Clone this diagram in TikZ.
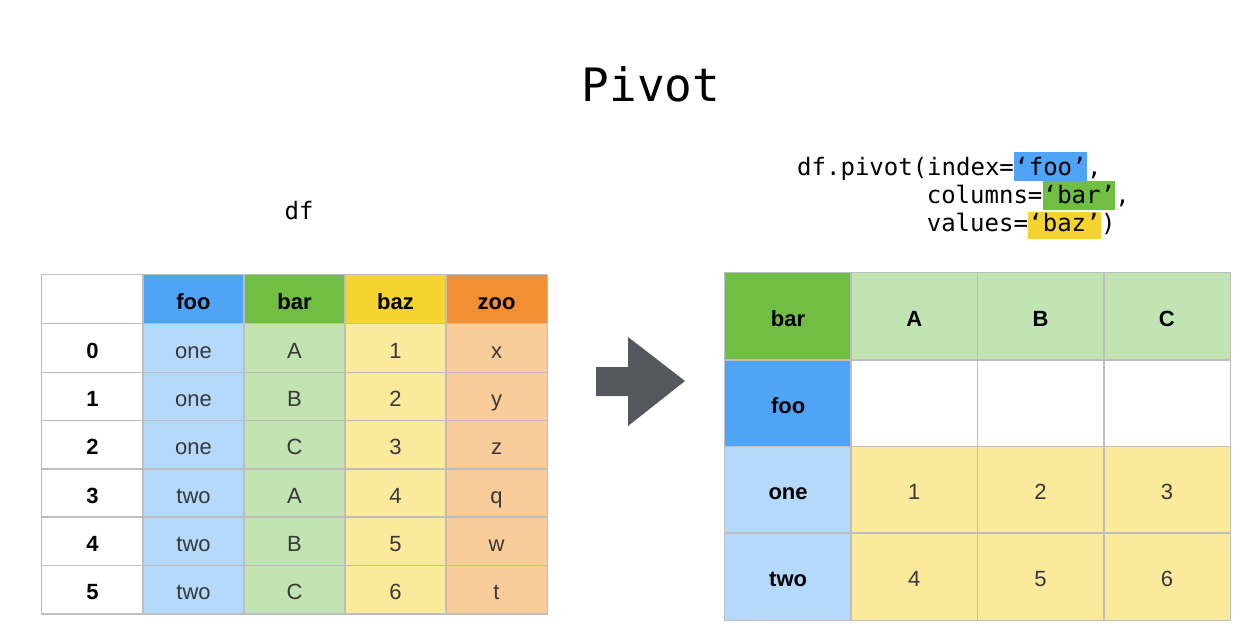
\documentclass[tikz,border=0pt]{standalone}
\usepackage{fontspec}
\setmainfont{Liberation Sans}
\newfontfamily\codefont{DejaVu Sans Mono}
\usetikzlibrary{positioning}
\definecolor{hblue}{HTML}{4FA4F8}
\definecolor{hgreen}{HTML}{70BE43}
\definecolor{hyellow}{HTML}{F5D431}
\definecolor{horange}{HTML}{F28F33}
\definecolor{lblue}{HTML}{B5D9FB}
\definecolor{lgreen}{HTML}{C2E3B2}
\definecolor{lyellow}{HTML}{FCEA9C}
\definecolor{lorange}{HTML}{F9CD9A}
\definecolor{gridgray}{HTML}{BEBEBE}
\definecolor{txtgray}{HTML}{383838}
\definecolor{arrowgray}{HTML}{54575E}
\tikzset{
  cell/.style={inner sep=0pt, text height=20pt, text depth=0pt, text=txtgray, font=\fontsize{22}{26}\selectfont},
  lcell/.style={cell, minimum width=101pt, minimum height=48.3pt},
  rcell/.style={cell, minimum width=126.25pt, minimum height=86.75pt},
  hdr/.style={text=black, font=\fontsize{22}{26}\selectfont\bfseries},
  gridline/.style={draw=gridgray, line width=1.2pt},
  code/.style={inner sep=0pt, text height=18pt, text depth=5pt, font=\codefont\fontsize{24}{28}\selectfont}
}
\begin{document}
\begin{tikzpicture}[x=1pt,y=-1pt, line join=round, line cap=round]
\useasboundingbox (0,0) rectangle (1257,644);
\node[font=\codefont\fontsize{46}{50}\selectfont] (title) at (651,84) {Pivot};
\node[code] (dfname) at (299,213) {df};
% call
\node[code, anchor=base west] (l1) at (797,176) {df.pivot(index=};
\node[code, anchor=base west, fill=hblue, text height=24pt] (kfoo) at (l1.base east) {‘foo’};
\node[code, anchor=base west] (c1) at (kfoo.base east) {,};
\node[code, anchor=base west] (l2) at (926.6,204) {columns=};
\node[code, anchor=base west, fill=hgreen, text height=23pt, text depth=6pt] (kbar) at (l2.base east) {‘bar’};
\node[code, anchor=base west] (c2) at (kbar.base east) {,};
\node[code, anchor=base west] (l3) at (926.6,232) {values=};
\node[code, anchor=base west, fill=hyellow, text height=20pt, text depth=7pt] (kbaz) at (l3.base east) {‘baz’};
\node[code, anchor=base west] (c3) at (kbaz.base east) {)};
% left table
\node[lcell, fill=white] (L-h-0) at (92.5,299.15) {};
\foreach \c/\h/\hc in {1/foo/hblue,2/bar/hgreen,3/baz/hyellow,4/zoo/horange}
  \node[lcell, hdr, fill=\hc] (L-h-\c) at ({92.5+101*\c},299.15) {\h};
\foreach \r/\a/\b/\v/\z in {0/one/A/1/x,1/one/B/2/y,2/one/C/3/z,3/two/A/4/q,4/two/B/5/w,5/two/C/6/t}{
  \pgfmathsetmacro\yy{348.15+48.3*\r}
  \node[lcell, hdr, fill=white] (L-\r-0) at (92.5,\yy) {\r};
  \node[lcell, fill=lblue] (L-\r-1) at (193.5,\yy) {\a};
  \node[lcell, fill=lgreen] (L-\r-2) at (294.5,\yy) {\b};
  \node[lcell, fill=lyellow] (L-\r-3) at (395.5,\yy) {\v};
  \node[lcell, fill=lorange] (L-\r-4) at (496.5,\yy) {\z};
}
\foreach \r in {h,0,1,2,3,4,5}
  \foreach \c in {0,...,4}
    \draw[gridline] (L-\r-\c.north west) rectangle (L-\r-\c.south east);
% arrow
\fill[arrowgray] (596,367) -- (628,367) -- (628,337) -- (685,381) -- (628,426) -- (628,396) -- (596,396) -- cycle;
% right table
\node[rcell, hdr, fill=hgreen] (R-0-0) at (788.1,316.4) {bar};
\node[rcell, hdr, fill=hblue] (R-1-0) at (788.1,403.1) {foo};
\foreach \c/\h in {1/A,2/B,3/C}{
  \node[rcell, hdr, fill=lgreen] (R-0-\c) at ({788.1+126.25*\c},316.4) {\h};
  \node[rcell, fill=white] (R-1-\c) at ({788.1+126.25*\c},403.1) {};
}
\foreach \r/\k/\a/\b/\v in {2/one/1/2/3,3/two/4/5/6}{
  \pgfmathsetmacro\yy{316.4+86.75*\r}
  \node[rcell, hdr, fill=lblue] (R-\r-0) at (788.1,\yy) {\k};
  \node[rcell, fill=lyellow] (R-\r-1) at (914.35,\yy) {\a};
  \node[rcell, fill=lyellow] (R-\r-2) at (1040.6,\yy) {\b};
  \node[rcell, fill=lyellow] (R-\r-3) at (1166.85,\yy) {\v};
}
\foreach \r in {0,...,3}
  \foreach \c in {0,...,3}
    \draw[gridline] (R-\r-\c.north west) rectangle (R-\r-\c.south east);
\end{tikzpicture}
\end{document}
